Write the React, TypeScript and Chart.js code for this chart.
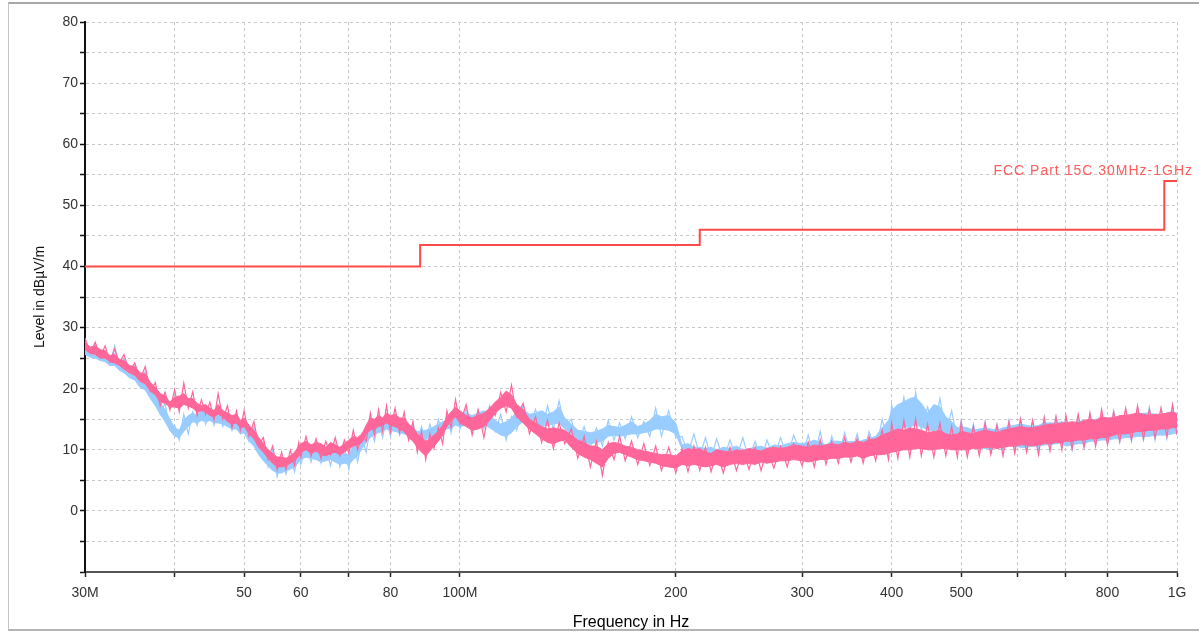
import React, { useEffect, useRef } from 'react';
import { Chart, registerables } from 'chart.js';

Chart.register(...registerables);

// Frequency points in MHz
const FREQ = [
  30, 30.5, 31, 31.5, 32, 32.5, 33, 33.5, 34, 34.6, 35.2, 35.8, 36.4, 37, 37.6, 38.2, 38.8, 39.4,
  40, 40.6, 41.2, 41.8, 42.4, 43, 43.6, 44.2, 44.8, 45.4, 46, 46.7, 47.4, 48.1, 48.8, 49.4,
  50, 50.8, 51.6, 52.4, 53.2, 54, 54.8, 55.6, 56.4, 57.2, 58, 58.8, 59.6,
  60, 61, 62, 63, 64, 65, 66, 67, 68, 69,
  70, 71, 72, 73, 74, 75, 76, 77, 78, 79,
  80, 81.2, 82.4, 83.6, 84.8, 86, 87.2, 88.4, 89.6, 90.8, 92, 93.3, 94.6, 95.9, 97.2, 98.6,
  100, 102, 104, 106, 108, 110, 112, 114, 116, 118, 120, 122.5, 125, 127.5, 130, 132.5, 135, 137.5,
  140, 143, 146, 149, 152, 155, 158, 161, 164, 167, 170, 173.5, 177, 180.5, 184, 187.5, 191, 195.5, 200,
  204, 208, 212, 216, 220, 224, 228, 233, 238, 243, 248, 253, 258, 263, 268, 274, 280, 286, 292,
  300, 306, 312, 318, 324, 330, 337, 344, 351, 358, 365, 372, 380, 388, 396,
  400, 408, 416, 424, 432, 440, 449, 458, 467, 476, 485, 494,
  500, 510, 520, 530, 540, 550, 561, 572, 583, 594, 605, 617, 629, 641, 653, 665, 678, 691,
  700, 714, 728, 742, 756, 770, 785, 800, 816, 832, 848, 864, 881, 898, 915, 932, 950, 968, 986, 1000,
];

// Pink trace spikes (dBµV/m), alternating peaks and troughs
const PINK = [
  28.3, 25.8, 27.6, 25.2, 27, 24.4, 26.5, 24.2, 25.6, 22.8, 24.2, 21.5, 23.6, 19.6, 21, 17.2, 19.4, 16.5,
  19.8, 16.2, 20.9, 16.8, 19.5, 15.6, 18.2, 15.8, 17.8, 14.9, 19.2, 15, 17.2, 13.6, 16.4, 13.2,
  16.4, 12.2, 14.6, 10.8, 12, 8.4, 10.6, 6.7, 9.6, 6.8, 9.9, 7.4, 11.2,
  8.8, 12.2, 9, 11.8, 8.6, 11.4, 9.2, 12, 9, 11.6,
  9.4, 13.2, 10, 12.6, 11.4, 16, 12.4, 16.6, 13, 17.2,
  13, 16.8, 12.8, 16.2, 11.6, 14.6, 9.6, 13, 8.4, 12.6, 10.2, 13.6, 11, 16.4, 13.6, 18.2,
  14.2, 17.4, 12.4, 16.6, 12, 17, 15.6, 19.4, 16.2, 20.6, 15.4, 17.6, 12.6, 15.4, 11.2, 14.8, 10.2, 14.4,
  11, 13.4, 8.6, 12.2, 7.2, 11.4, 5.8, 11.2, 8.4, 12.2, 8.2, 11.4, 7.6, 11, 7.4, 10.6, 6.6, 10.4, 6.2,
  10.2, 6.4, 10.6, 6.6, 10.4, 6.4, 9.8, 6.2, 10.4, 6.6, 10, 6.8, 10.4, 6.6, 10.2, 7, 10.6, 7.2, 11,
  7.4, 11.2, 7.2, 11.6, 7.6, 11.4, 7.8, 12, 8, 11.8, 7.8, 12.2, 8.2, 13.2, 8.4,
  14.4, 8.6, 14.8, 8.8, 15, 9, 14.2, 8.8, 14.4, 9, 13.8, 8.8,
  14.4, 8.8, 13.8, 9, 14.4, 9.2, 14, 9, 14.6, 9.4, 15, 9.6, 14.8, 9.2, 15.2, 9.8, 15.4, 10,
  15.6, 10.2, 15.8, 10.4, 16, 10.6, 16.6, 10.8, 16.2, 11.4, 16.8, 11.6, 17.2, 11.8, 16.6, 12, 16.8, 12.2, 17.4, 12.4,
];

// Pink trace dense core: upper and lower edge
const PINK_CORE_HI = [
  27.6, 26.8, 27.0, 26.4, 26.2, 25.4, 25.6, 24.8, 24.6, 23.8, 23.6, 22.6, 22.4, 21.0, 20.2, 19.2, 18.8, 17.8,
  18.6, 18.8, 19.2, 18.4, 18.4, 17.6, 17.2, 17.4, 16.8, 16.4, 17.4, 16.4, 16.0, 15.6, 15.8, 14.8,
  15.2, 14.0, 13.2, 12.0, 11.0, 10.0, 9.4, 8.8, 8.8, 8.6, 9.0, 9.6, 10.6,
  11.0, 11.4, 10.8, 11.2, 11.0, 10.4, 11.2, 10.8, 10.4, 11.0,
  11.6, 12.2, 12.0, 12.6, 14.0, 15.2, 15.0, 15.6, 15.2, 16.0,
  15.6, 15.8, 15.2, 15.2, 14.2, 13.6, 12.6, 12.0, 11.4, 11.8, 12.4, 13.0, 14.0, 15.4, 16.2, 17.0,
  16.4, 15.6, 15.2, 15.6, 16.0, 16.8, 17.8, 18.6, 19.6, 19.0, 17.4, 16.6, 15.0, 14.4, 13.8, 13.4, 13.6, 13.4,
  13.2, 12.4, 11.6, 11.2, 10.6, 10.6, 10.0, 11.0, 11.2, 11.0, 10.6, 10.4, 10.0, 9.8, 9.6, 9.4, 9.2, 9.2, 9.0,
  9.8, 10.2, 10.0, 10.2, 9.6, 9.4, 10.0, 9.8, 9.6, 10.0, 9.8, 10.2, 10.0, 9.8, 10.2, 10.4, 10.2, 10.4, 10.8,
  10.6, 10.4, 10.8, 10.6, 10.8, 11.0, 10.8, 11.2, 11.0, 11.4, 11.2, 11.6, 11.8, 12.4, 12.8,
  13.0, 13.4, 13.2, 13.6, 13.4, 13.2, 12.8, 13.0, 13.2, 12.6, 12.4, 12.6,
  13.0, 12.8, 12.6, 13.0, 13.2, 13.0, 12.8, 13.2, 13.4, 13.6, 13.8, 13.6, 13.6, 13.8, 14.0, 14.2, 14.2, 14.4,
  14.4, 14.6, 14.4, 14.8, 15.0, 14.8, 15.4, 15.2, 15.2, 15.6, 15.6, 15.8, 16.0, 15.8, 15.6, 15.8, 15.8, 16.0, 16.2, 15.8,
];
const PINK_CORE_LO = [
  26.4, 25.8, 25.6, 25.0, 25.0, 24.4, 24.2, 23.8, 23.2, 22.6, 22.2, 21.2, 20.8, 19.6, 19.0, 17.8, 17.6, 17.0,
  17.0, 16.8, 17.4, 17.2, 16.8, 16.2, 16.4, 16.2, 15.6, 15.4, 15.8, 15.4, 14.6, 14.2, 14.4, 13.6,
  13.8, 12.6, 11.8, 10.4, 9.6, 8.6, 7.8, 7.2, 7.2, 7.4, 7.8, 8.2, 9.0,
  9.6, 10.0, 9.4, 9.8, 9.2, 9.0, 9.4, 9.6, 9.2, 9.6,
  10.2, 10.6, 10.8, 11.2, 12.6, 13.2, 13.4, 13.8, 14.0, 14.4,
  14.0, 13.8, 13.4, 13.0, 12.0, 11.4, 10.4, 9.6, 9.0, 9.8, 10.6, 11.4, 12.4, 13.8, 14.8, 15.4,
  14.4, 13.8, 13.2, 13.4, 13.8, 14.8, 16.0, 16.8, 17.2, 16.8, 15.4, 14.4, 13.4, 12.6, 11.8, 11.2, 11.0, 11.4,
  11.6, 10.4, 9.4, 8.8, 8.4, 7.8, 7.2, 8.6, 9.4, 9.6, 9.2, 8.8, 8.4, 8.2, 8.0, 7.8, 7.4, 7.2, 7.0,
  7.6, 7.4, 7.6, 7.4, 7.2, 7.4, 7.6, 7.2, 7.6, 7.8, 7.6, 7.8, 7.6, 8.0, 7.8, 8.0, 8.2, 8.2, 8.4,
  8.2, 8.0, 8.2, 8.4, 8.4, 8.6, 8.6, 8.8, 8.8, 9.0, 8.6, 9.0, 9.2, 9.2, 9.4,
  9.6, 9.8, 10.0, 10.0, 10.2, 10.2, 10.0, 10.0, 10.2, 10.2, 10.0, 10.0,
  10.0, 10.0, 10.2, 10.2, 10.4, 10.4, 10.2, 10.4, 10.6, 10.6, 10.8, 10.8, 10.6, 10.8, 11.0, 11.0, 11.2, 11.2,
  11.4, 11.4, 11.6, 11.6, 11.8, 11.8, 12.0, 12.0, 12.4, 12.6, 12.6, 12.8, 13.0, 13.0, 13.2, 13.2, 13.4, 13.4, 13.6, 13.6,
];

// Blue trace spikes (dBµV/m)
const BLUE = [
  27.8, 25.2, 27.2, 24.8, 26.2, 24, 27, 23.6, 25, 22.5, 23.8, 20.8, 22.8, 18.8, 20, 15.8, 17.6, 13.2,
  14, 11.6, 15.8, 12.6, 16.2, 14, 17, 14.2, 16.8, 14, 16.4, 13.8, 16, 13.2, 15.8, 12.8,
  15, 11.4, 13.8, 9.8, 11.4, 7.2, 9.8, 5.6, 8.6, 6, 8.8, 6.4, 9.6,
  7.6, 10.6, 8, 10.8, 7.8, 10.2, 7.4, 11, 7.2, 10.4,
  6.8, 11.4, 8, 11.8, 9.6, 13.6, 11.4, 14.8, 12, 15.2,
  12.2, 15.4, 12.4, 15, 11.8, 14.4, 11.2, 13.8, 11.4, 14.2, 11.6, 15, 12.4, 15.6, 12.8, 16.4,
  13.4, 16.8, 13, 16.4, 13.4, 17.2, 13, 15.8, 11.6, 15.4, 13.2, 17.4, 13.8, 16.6, 13.2, 17.2, 13.4, 18,
  13.8, 15, 10.6, 13.8, 10.4, 13.6, 10.6, 14.8, 11.6, 14.4, 11.8, 15.4, 12, 14.6, 12.2, 16.8, 12.2, 16.4, 12,
  12.2, 9.4, 12.6, 9, 12, 8.6, 11.8, 8.4, 11.6, 8.6, 12, 8.4, 11.4, 8.2, 11.6, 8.6, 12, 8.8, 12.4,
  8.8, 12.4, 8.6, 13, 8.4, 12.2, 8.8, 12.8, 9, 12.6, 8.8, 13, 9.6, 15, 10.6,
  17.4, 12.4, 18.6, 13, 19.4, 13.2, 17, 12.6, 18.4, 12.8, 16.4, 11.4,
  14.8, 9.6, 14.2, 9.8, 14.6, 9.6, 14.2, 9.8, 14.8, 10, 15.2, 9.8, 14.8, 10, 15.4, 10.2, 15.4, 10.4,
  15.4, 10, 15.6, 10.4, 15.8, 10.8, 16, 11, 16.4, 11.2, 16.4, 11.4, 16.8, 11.6, 17, 11.6, 16.8, 11.8, 17.2, 12.6,
];

// Blue trace dense core: upper and lower edge
const BLUE_CORE_HI = [
  26.8, 26.2, 26.4, 25.6, 25.6, 25.0, 25.8, 24.2, 24.2, 23.0, 22.8, 21.6, 21.6, 19.8, 19.0, 17.6, 16.6, 15.0,
  13.6, 13.2, 14.8, 15.6, 16.0, 15.6, 16.4, 16.0, 16.0, 15.4, 15.6, 15.4, 15.0, 14.8, 14.8, 14.0,
  14.2, 12.8, 12.2, 10.8, 10.0, 9.0, 8.4, 7.8, 7.6, 7.8, 8.0, 8.4, 9.0,
  9.6, 10.0, 9.8, 10.0, 9.4, 9.0, 9.8, 10.2, 9.6, 9.4,
  9.2, 10.6, 10.8, 11.6, 12.6, 13.2, 13.8, 14.0, 14.4, 14.6,
  14.8, 14.6, 14.4, 14.2, 13.8, 13.6, 13.0, 13.0, 13.2, 13.4, 13.8, 14.2, 14.6, 14.8, 15.2, 15.6,
  15.8, 16.0, 15.6, 16.0, 16.4, 15.6, 14.8, 14.2, 14.6, 15.2, 16.2, 16.6, 15.8, 16.0, 16.4, 15.8, 16.2, 17.0,
  15.2, 14.2, 13.2, 13.0, 12.8, 13.0, 13.4, 14.0, 13.8, 13.6, 14.0, 14.6, 13.8, 14.2, 14.8, 15.8, 15.4, 15.6, 14.4,
  10.8, 11.0, 10.4, 10.4, 10.2, 10.4, 10.0, 10.4, 10.2, 10.6, 10.0, 10.2, 10.4, 10.6, 10.2, 10.8, 10.6, 11.0, 11.2,
  11.0, 11.2, 11.6, 11.2, 10.8, 11.4, 11.4, 11.2, 11.4, 11.2, 11.6, 11.8, 12.2, 13.6, 14.8,
  16.4, 17.4, 17.8, 18.4, 18.6, 17.6, 16.0, 17.4, 17.0, 15.4, 14.6, 13.6,
  13.8, 13.6, 13.2, 13.4, 13.6, 13.4, 13.2, 13.6, 13.8, 14.0, 14.2, 14.0, 13.8, 14.0, 14.4, 14.4, 14.4, 14.6,
  14.4, 14.4, 14.6, 14.8, 14.8, 15.0, 15.0, 15.2, 15.4, 15.4, 15.4, 15.6, 15.8, 16.0, 16.0, 15.8, 15.8, 16.0, 16.2, 16.0,
];
const BLUE_CORE_LO = [
  25.6, 25.2, 25.0, 24.6, 24.4, 23.8, 23.8, 23.0, 22.6, 21.8, 21.4, 20.2, 19.8, 18.4, 17.2, 15.8, 14.6, 13.2,
  12.2, 12.0, 13.0, 13.8, 14.6, 14.4, 14.8, 14.6, 14.8, 14.4, 14.4, 14.2, 13.8, 13.4, 13.4, 12.6,
  12.8, 11.4, 10.6, 9.2, 8.2, 7.4, 6.6, 6.2, 6.2, 6.6, 6.8, 7.2, 8.0,
  8.4, 8.8, 8.6, 8.4, 8.0, 8.2, 8.4, 8.0, 7.6, 7.8,
  7.6, 8.4, 9.0, 10.2, 11.2, 12.0, 12.6, 12.8, 13.0, 13.4,
  13.2, 13.0, 12.8, 12.6, 12.4, 12.2, 11.8, 11.6, 11.8, 12.0, 12.4, 12.8, 13.2, 13.4, 13.6, 14.0,
  13.8, 14.0, 13.6, 14.0, 14.2, 13.6, 13.0, 12.4, 12.2, 12.8, 13.8, 14.6, 14.4, 14.0, 13.8, 14.0, 14.2, 14.4,
  13.4, 12.6, 11.6, 11.2, 11.0, 11.2, 11.4, 12.2, 12.4, 12.2, 12.4, 12.6, 12.6, 12.8, 13.0, 13.4, 13.4, 13.2, 12.6,
  10.2, 9.8, 9.4, 9.2, 9.0, 9.2, 8.8, 9.0, 8.8, 9.2, 9.0, 8.8, 9.0, 9.2, 9.2, 9.4, 9.4, 9.6, 9.6,
  9.4, 9.4, 9.2, 9.2, 9.0, 9.4, 9.4, 9.6, 9.6, 9.4, 9.6, 9.8, 10.2, 11.2, 12.2,
  12.8, 13.2, 13.6, 13.8, 14.0, 13.8, 13.2, 13.2, 13.4, 12.6, 11.6, 11.0,
  10.0, 10.2, 10.4, 10.4, 10.2, 10.2, 10.4, 10.4, 10.6, 10.6, 10.4, 10.4, 10.6, 10.6, 10.8, 10.8, 11.0, 11.0,
  10.6, 10.8, 11.0, 11.0, 11.4, 11.4, 11.6, 11.6, 11.8, 11.8, 12.0, 12.0, 12.2, 12.2, 12.2, 12.4, 12.4, 12.4, 12.6, 12.8,
];

// Limit line (FCC Part 15C, 3 m)
const LIMIT_NAME = 'FCC Part 15C 30MHz-1GHz';
const LIMIT_FREQ = [30, 88, 88, 216, 216, 960, 960, 1000];
const LIMIT_LEVEL = [40, 40, 43.5, 43.5, 46, 46, 54, 54];

// Axis ticks
const X_TICKS = [30, 40, 50, 60, 70, 80, 100, 200, 300, 400, 500, 600, 700, 800, 1000];
const X_TICK_LABELS = ['30M', '', '50', '60', '', '80', '100M', '200', '300', '400', '500', '', '', '800', '1G'];
const Y_TICKS = [-10, -5, 0, 5, 10, 15, 20, 25, 30, 35, 40, 45, 50, 55, 60, 65, 70, 75, 80];
const Y_TICK_LABELS = ['', '', '0', '', '10', '', '20', '', '30', '', '40', '', '50', '', '60', '', '70', '', '80'];

const X_TITLE = 'Frequency in Hz';
const Y_TITLE = 'Level in dBµV/m';

const PINK_COLOR = '#ff6699';
const BLUE_COLOR = '#99ccff';
const LIMIT_COLOR = '#ff4a4a';

const FONT = '"Liberation Sans", Arial, sans-serif';

const limitLabelPlugin = {
  id: 'limitLabel',
  afterDatasetsDraw(chart: any) {
    const { ctx, scales } = chart;
    const xs = scales.x;
    const ys = scales.y;
    ctx.save();
    ctx.font = `14px ${FONT}`;
    ctx.fillStyle = '#ff5c5c';
    ctx.textAlign = 'right';
    ctx.textBaseline = 'middle';
    try { (ctx as any).letterSpacing = '1px'; } catch (e) {}
    const x = xs.getPixelForValue(LIMIT_FREQ[LIMIT_FREQ.length - 1]) + 16;
    const y = ys.getPixelForValue(LIMIT_LEVEL[LIMIT_LEVEL.length - 1]) - 10;
    ctx.fillText(LIMIT_NAME, x, y);
    ctx.restore();
  },
};

const pts = (ys: number[]) => FREQ.map((f, i) => ({ x: f, y: ys[i] }));

export default function App() {
  const ref = useRef<HTMLCanvasElement>(null);

  useEffect(() => {
    if (!ref.current) return;
    const lineBase = { pointRadius: 0, tension: 0 };
    const chart = new Chart(ref.current, {
      type: 'line',
      data: {
        datasets: [
          {
            ...lineBase,
            label: LIMIT_NAME,
            data: LIMIT_FREQ.map((f, i) => ({ x: f, y: LIMIT_LEVEL[i] })),
            borderColor: LIMIT_COLOR,
            borderWidth: 2,
            order: 0,
          },
          {
            ...lineBase,
            label: 'Pink',
            data: pts(PINK),
            borderColor: PINK_COLOR,
            borderWidth: 1.2,
            order: 1,
          },
          {
            ...lineBase,
            label: 'Pink core hi',
            data: pts(PINK_CORE_HI),
            borderColor: PINK_COLOR,
            backgroundColor: PINK_COLOR,
            borderWidth: 1,
            fill: '+1',
            order: 2,
          },
          {
            ...lineBase,
            label: 'Pink core lo',
            data: pts(PINK_CORE_LO),
            borderColor: PINK_COLOR,
            borderWidth: 1,
            order: 3,
          },
          {
            ...lineBase,
            label: 'Blue',
            data: pts(BLUE),
            borderColor: BLUE_COLOR,
            borderWidth: 1.2,
            order: 4,
          },
          {
            ...lineBase,
            label: 'Blue core hi',
            data: pts(BLUE_CORE_HI),
            borderColor: BLUE_COLOR,
            backgroundColor: BLUE_COLOR,
            borderWidth: 1,
            fill: '+1',
            order: 5,
          },
          {
            ...lineBase,
            label: 'Blue core lo',
            data: pts(BLUE_CORE_LO),
            borderColor: BLUE_COLOR,
            borderWidth: 1,
            order: 6,
          },
        ],
      },
      options: {
        responsive: false,
        animation: false,
        layout: { padding: { left: 0, top: 22, right: 22, bottom: 0 } },
        plugins: {
          legend: { display: false },
          tooltip: { enabled: false },
          filler: { drawTime: 'beforeDatasetDraw' },
        },
        scales: {
          x: {
            type: 'logarithmic',
            min: 30,
            max: 1000,
            afterBuildTicks: (s: any) => {
              s.ticks = X_TICKS.map((v) => ({ value: v }));
            },
            afterFit: (s: any) => {
              s.height = 61;
            },
            ticks: {
              autoSkip: false,
              maxRotation: 0,
              minRotation: 0,
              padding: 8,
              color: '#333',
              font: { family: FONT, size: 14 },
              callback: (_v: any, i: number) => X_TICK_LABELS[i],
            },
            grid: {
              color: '#c8c8c8',
              lineWidth: 1,
              drawTicks: true,
              tickLength: 5,
              tickColor: '#222',
              tickWidth: 1.5,
              tickBorderDash: [],
            },
            border: { display: true, color: '#555', width: 2, dash: [3, 3] },
            title: {
              display: true,
              text: X_TITLE,
              color: '#000',
              font: { family: FONT, size: 16 },
              padding: { top: 0, bottom: 1 },
            },
          },
          y: {
            type: 'linear',
            min: -10,
            max: 80,
            afterBuildTicks: (s: any) => {
              s.ticks = Y_TICKS.map((v) => ({ value: v }));
            },
            afterFit: (s: any) => {
              s.width = 85;
            },
            ticks: {
              autoSkip: false,
              padding: 2,
              color: '#333',
              font: { family: FONT, size: 14 },
              callback: (_v: any, i: number) => Y_TICK_LABELS[i],
            },
            grid: {
              color: '#c8c8c8',
              lineWidth: 1,
              drawTicks: true,
              tickLength: 5,
              tickColor: '#111',
              tickWidth: 1.5,
              tickBorderDash: [],
            },
            border: { display: true, color: '#111', width: 2, dash: [3, 3] },
            title: {
              display: true,
              text: Y_TITLE,
              color: '#111',
              font: { family: FONT, size: 14 },
              padding: { top: 32, bottom: 0 },
            },
          },
        },
      },
      plugins: [limitLabelPlugin],
    } as any);
    return () => chart.destroy();
  }, []);

  return (
    <div
      style={{
        position: 'absolute',
        left: 0,
        top: 0,
        width: 1199,
        height: 633,
        overflow: 'hidden',
        background: '#fff',
      }}
    >
      <div
        style={{
          position: 'absolute',
          left: 8,
          top: 2,
          right: -10,
          bottom: 2,
          borderTop: '2px solid #a8a8a8',
          borderLeft: '1px solid #c4c4c4',
          borderBottom: '2px solid #b4b4b4',
        }}
      />
      <canvas
        ref={ref}
        width={1199}
        height={633}
        style={{ position: 'absolute', left: 0, top: 0, width: 1199, height: 633 }}
      />
    </div>
  );
}
